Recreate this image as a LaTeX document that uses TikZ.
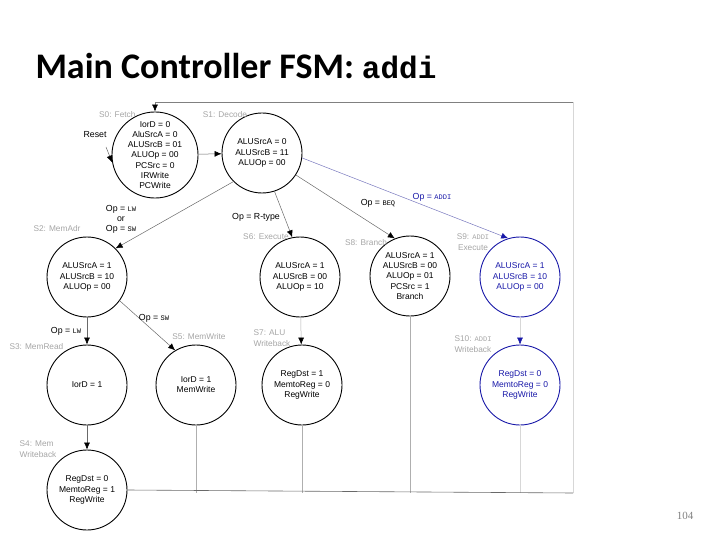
\documentclass[tikz,border=0pt]{standalone}
\usepackage{fontspec}
\setmainfont{Liberation Sans}
\newfontfamily\titlefont{Carlito}
\newfontfamily\monofont{Liberation Mono}
\newfontfamily\numfont{Liberation Serif}
\usepackage{xcolor}
\usepackage{tikz}
\usetikzlibrary{arrows.meta,positioning}
\definecolor{fsmblue}{RGB}{24,24,168}
\definecolor{addiline}{RGB}{120,120,190}
\definecolor{namegray}{RGB}{165,165,165}
\definecolor{wiredark}{RGB}{105,105,105}
\definecolor{wirelight}{RGB}{175,175,175}
\definecolor{wirefaint}{RGB}{215,215,215}
\newcommand{\opname}[1]{{\monofont\fontsize{7}{8}\selectfont #1}}

\begin{document}
\begin{tikzpicture}[x=1pt,y=-1pt,
  state/.style={circle,draw,line width=0.9pt,minimum size=80pt,inner sep=0pt,
    align=center,font=\fontsize{8.5}{10.2}\selectfont},
  addistate/.style={state,draw=fsmblue,text=fsmblue},
  statename/.style={text=namegray,font=\fontsize{8.3}{10.5}\selectfont},
  cond/.style={font=\fontsize{8.8}{10}\selectfont,align=center},
  trans/.style={draw=wiredark,line width=0.5pt,-{Latex[length=7pt,width=6pt,black]}},
  backwire/.style={draw=wiredark,line width=0.6pt}]
\useasboundingbox (0,0) rectangle (720,540);
%%the title and page number
\node[anchor=west,font=\titlefont\bfseries\fontsize{36}{40}\selectfont] (title) at (32,66)
  {Main Controller FSM: {\monofont\fontsize{31}{36}\selectfont addi}};
\node[text=gray,font=\numfont\fontsize{11}{12}\selectfont] (pagenum) at (685,516) {104};
%%the states
\node[state] (S0) at (155,155) {IorD = 0\\AluSrcA = 0\\ALUSrcB = 01\\ALUOp = 00\\PCSrc = 0\\IRWrite\\PCWrite};
\node[state] (S1) at (262,153) {ALUSrcA = 0\\ALUSrcB = 11\\ALUOp = 00};
\node[state] (S2) at (87,277) {ALUSrcA = 1\\ALUSrcB = 10\\ALUOp = 00};
\node[state] (S6) at (300,277) {ALUSrcA = 1\\ALUSrcB = 00\\ALUOp = 10};
\node[state] (S8) at (410,276) {ALUSrcA = 1\\ALUSrcB = 00\\ALUOp = 01\\PCSrc = 1\\Branch};
\node[addistate] (S9) at (520,277) {ALUSrcA = 1\\ALUSrcB = 10\\ALUOp = 00};
\node[state] (S3) at (87,385) {IorD = 1};
\node[state] (S5) at (196,385) {IorD = 1\\MemWrite};
\node[state] (S7) at (302,385) {RegDst = 1\\MemtoReg = 0\\RegWrite};
\node[addistate] (S10) at (520,385) {RegDst = 0\\MemtoReg = 0\\RegWrite};
\node[state] (S4) at (87,490) {RegDst = 0\\MemtoReg = 1\\RegWrite};
%%state names
\node[statename,anchor=east] (n0) at (139,115) {S0: Fetch};
\node[statename] (n1) at (225,115) {S1: Decode};
\node[statename] (n2) at (57,229) {S2: MemAdr};
\node[statename] (n6) at (266,237) {S6: Execute};
\node[statename] (n8) at (366,243) {S8: Branch};
\node[statename,align=center] (n9) at (473,242) {S9: \opname{ADDI}\\Execute};
\node[statename,anchor=west] (n3) at (6,347) {S3: MemRead};
\node[statename] (n5) at (199,337) {S5: MemWrite};
\node[statename,align=left] (n7) at (272,338) {S7: ALU\\Writeback};
\node[statename,align=left] (n10) at (473,344) {S10: \opname{ADDI}\\Writeback};
\node[statename,align=left] (n4) at (38,449) {S4: Mem\\Writeback};
%%the transitions
\path (106,147) coordinate (rst);
\node[cond] (resetlbl) at (95,135) {Reset};
\draw[trans] (rst) -- (S0.190);
\draw[trans] (S0) -- (S1);
\draw[trans] (S1.225) -- (S2.45);
\draw[trans] (S1.288) -- (S6.101);
\draw[trans] (S1.327) -- (S8.112);
\draw[trans,draw=addiline,-{Latex[length=7pt,width=6pt,fsmblue]}] (S1.353) -- (S9.107);
\draw[trans] (S2) -- (S3);
\draw[trans] (S2.324) -- (S5.121);
\draw[trans] (S3) -- (S4);
\draw[trans,draw=wirelight] (S6) -- (S7);
\draw[trans,draw=wirefaint,-{Latex[length=7pt,width=6pt,fsmblue]}] (S9) -- (S10);
%%the conditions
\node[cond] (c1) at (121,219) {Op = \opname{LW}\\or\\Op = \opname{SW}};
\node[cond] (c2) at (256,217) {Op = R-type};
\node[cond] (c3) at (378,203) {Op = \opname{BEQ}};
\node[cond,text=fsmblue] (c4) at (432,197) {Op = \opname{ADDI}};
\node[cond] (c5) at (66,331) {Op = \opname{LW}};
\node[cond] (c6) at (154,318) {Op = \opname{SW}};
%%back to fetch
\path (573,493) coordinate (br)
      (573,102) coordinate (tr);
\draw[backwire,draw=wirelight] (S5.south) -- (S5.south |- br);
\draw[backwire,draw=wirelight] (S7.south) -- (S7.south |- br);
\draw[backwire,draw=wirelight] (S8.south) -- (S8.south |- br);
\draw[backwire,draw=wirefaint] (S10.south) -- (S10.south |- br);
\draw[backwire,draw=wirefaint] (br) -- (tr);
\draw[backwire] (S4.east) -- (br);
\draw[trans,draw=gray] (tr) -- (S0.north |- tr) -- (S0.north);
\end{tikzpicture}
\end{document}
